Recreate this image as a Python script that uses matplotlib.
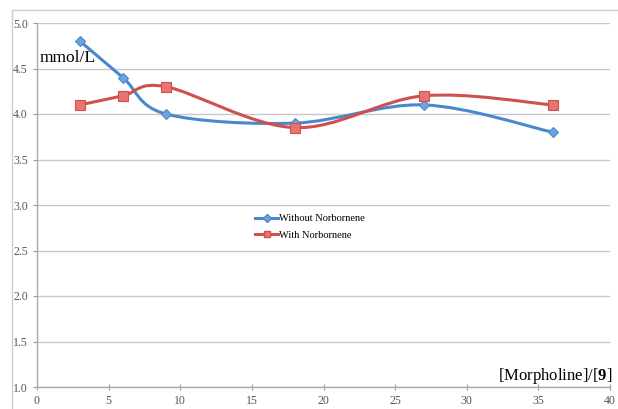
import numpy as np
import matplotlib
matplotlib.use('Agg')
import matplotlib.pyplot as plt
from matplotlib.path import Path
from matplotlib.patches import PathPatch
from matplotlib.lines import Line2D

x = [3, 6, 9, 18, 27, 36]
without_nb = [4.8, 4.4, 4.0, 3.9, 4.1, 3.8]
with_nb = [4.1, 4.2, 4.3, 3.85, 4.2, 4.1]

xticks = [0, 5, 10, 15, 20, 25, 30, 35, 40]
yticks = [1.0, 1.5, 2.0, 2.5, 3.0, 3.5, 4.0, 4.5, 5.0]

blue = '#4a88cc'
red = '#cf504c'

plt.rcParams['font.family'] = ['Liberation Serif', 'DejaVu Serif']
plt.rcParams['mathtext.fontset'] = 'custom'
plt.rcParams['mathtext.rm'] = 'Liberation Serif'
plt.rcParams['mathtext.bf'] = 'Liberation Serif:bold'

fig = plt.figure(figsize=(6.18, 4.09), dpi=100)
ax = fig.add_axes([37/618, 1-387/409, (610-37)/618, (387-23)/409])


def smooth_path(xs, ys):
    # excel-style smoothed line: catmull-rom segments as cubic beziers
    p = np.column_stack([xs, ys]).astype(float)
    n = len(p)
    verts = [p[0]]
    codes = [Path.MOVETO]
    for i in range(n - 1):
        p0 = p[i - 1] if i > 0 else p[i]
        p3 = p[i + 2] if i + 2 < n else p[i + 1]
        c1 = p[i] + (p[i + 1] - p0) / 6
        c2 = p[i + 1] - (p3 - p[i]) / 6
        verts += [c1, c2, p[i + 1]]
        codes += [Path.CURVE4] * 3
    return Path(verts, codes)


ax.add_patch(PathPatch(smooth_path(x, without_nb), fc='none', ec=blue, lw=2.2, zorder=3))
ax.add_patch(PathPatch(smooth_path(x, with_nb), fc='none', ec=red, lw=2.2, zorder=3))
ax.plot(x, without_nb, ls='none', marker='D', ms=5, mfc='#6fa3dc', mec=blue, mew=0.8, zorder=4)
ax.plot(x, with_nb, ls='none', marker='s', ms=7, mfc='#e77470', mec=red, mew=0.8, zorder=4)

ax.set_xlim(0, 40)
ax.set_ylim(1.0, 5.0)
ax.set_xticks(xticks)
ax.set_yticks(yticks)
ax.set_xticklabels([str(t) for t in xticks])
ax.set_yticklabels(['%.1f' % t for t in yticks])
ax.tick_params(labelsize=8.5, colors='#999999', labelcolor='#555555', length=3, width=0.8)
ax.tick_params(axis='x', direction='inout', length=4)
ax.grid(axis='y', color='#c8c8c8', lw=1)
ax.set_axisbelow(True)
for s in ['top', 'right']:
    ax.spines[s].set_visible(False)
for s in ['left', 'bottom']:
    ax.spines[s].set_color('#aaaaaa')
    ax.spines[s].set_linewidth(1)

fig.text(40/618, 1-58/409, 'mmol/L', fontsize=12.5, va='center', ha='left')
fig.text(612/618, 1-376/409, r'[Morpholine]/[$\mathbf{9}$]', fontsize=12, va='center', ha='right')

handles = [Line2D([], [], color=blue, lw=2.2, marker='D', ms=4, mfc='#6fa3dc', mec=blue),
           Line2D([], [], color=red, lw=2.2, marker='s', ms=5, mfc='#e77470', mec=red)]
fig.legend(handles, ['Without Norbornene', 'With Norbornene'], loc='center',
           bbox_to_anchor=(310/618, 1-227/409), frameon=False, fontsize=7.5,
           handlelength=2.2, handletextpad=0.1, labelspacing=0.7)

# outer chart frame
fig.add_artist(Line2D([12/618, 1], [1-10/409, 1-10/409], color='#cccccc', lw=1))
fig.add_artist(Line2D([12/618, 12/618], [0, 1-10/409], color='#cccccc', lw=1))

fig.savefig('out.png', dpi=100)
